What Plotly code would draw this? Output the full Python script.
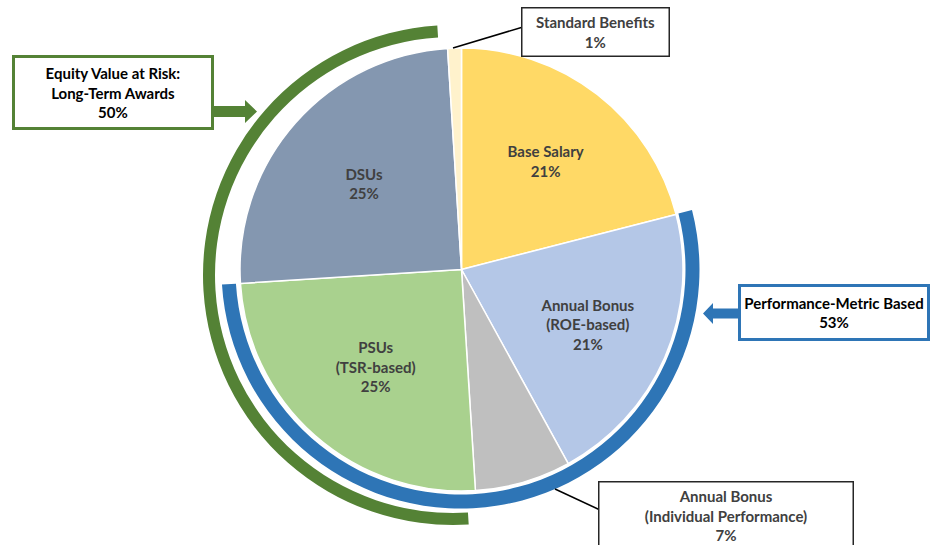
import plotly.graph_objects as go

# ---- data ----
categories = ["Base Salary", "Annual Bonus (ROE-based)", "Annual Bonus (Individual Performance)",
              "PSUs (TSR-based)", "DSUs", "Standard Benefits"]
inside_labels = ["Base Salary", "Annual Bonus<br>(ROE-based)", "", "PSUs<br>(TSR-based)", "DSUs", ""]
values = [21, 21, 7, 25, 25, 1]
slice_colors = ["#FFD966", "#B4C7E7", "#BFBFBF", "#A9D18E", "#8497B0", "#FFF2CC"]

performance_total = values[1] + values[2] + values[3]   # 53
equity_total = values[3] + values[4]                     # 50

W, H = 930, 545
def px(x): return x / W
def py(y): return 1 - y / H

def dom(cx, cy, r):
    return dict(x=[px(cx - r), px(cx + r)], y=[py(cy + r), py(cy - r)])

FONT = "Lato, 'Open Sans', sans-serif"
FS = 15
texts = [f"{lab}<br>{v}%" if lab else "" for lab, v in zip(inside_labels, values)]

fig = go.Figure()

# main pie
fig.add_trace(go.Pie(
    labels=categories, values=values, text=texts, textinfo="text",
    textposition="inside", insidetextorientation="horizontal",
    sort=False, direction="clockwise", rotation=0,
    marker=dict(colors=slice_colors, line=dict(color="white", width=1.5)),
    textfont=dict(family=FONT, size=FS, color="#404040", weight="bold"),
    domain=dom(461.5, 269.5, 221.5), hoverinfo="label+percent", showlegend=False,
))

# blue ring: performance-metric based
fig.add_trace(go.Pie(
    labels=["a", "perf", "b"],
    values=[values[0], performance_total, values[4] + values[5]],
    sort=False, direction="clockwise", rotation=0, hole=225 / 239,
    marker=dict(colors=["rgba(0,0,0,0)", "#2E75B6", "rgba(0,0,0,0)"], line=dict(width=0)),
    textinfo="none", hoverinfo="skip", showlegend=False,
    domain=dom(460.5, 269.5, 239),
))

# green ring: equity value at risk
fig.add_trace(go.Pie(
    labels=["c", "equity", "d"],
    values=[values[0] + values[1] + values[2], equity_total, values[5]],
    sort=False, direction="clockwise", rotation=0, hole=238 / 250,
    marker=dict(colors=["rgba(0,0,0,0)", "#548235", "rgba(0,0,0,0)"], line=dict(width=0)),
    textinfo="none", hoverinfo="skip", showlegend=False,
    domain=dom(453, 275, 250),
))

def path(points):
    return "M " + " L ".join(f"{px(x)},{py(y)}" for x, y in points) + " Z"

shapes = [
    # green arrow
    dict(type="path", xref="paper", yref="paper", layer="above",
         path=path([(208, 106), (245, 106), (245, 100), (257, 111.5), (245, 123), (245, 117), (208, 117)]),
         fillcolor="#548235", line=dict(width=0)),
    # blue arrow
    dict(type="path", xref="paper", yref="paper", layer="above",
         path=path([(741, 308.5), (713, 308.5), (713, 303), (703, 313.5), (713, 324), (713, 318.5), (741, 318.5)]),
         fillcolor="#2E75B6", line=dict(width=0)),
    # leader lines
    dict(type="line", xref="paper", yref="paper", x0=px(453), y0=py(48), x1=px(523), y1=py(27),
         line=dict(color="black", width=1.5)),
    dict(type="line", xref="paper", yref="paper", x0=px(555), y0=py(489), x1=px(600), y1=py(510),
         line=dict(color="black", width=1.5)),
]

def box(text, cx, cy, w, h, border, bw, color):
    return dict(text=text, xref="paper", yref="paper", x=px(cx), y=py(cy),
                xanchor="center", yanchor="middle", showarrow=False,
                width=w, height=h, borderpad=0, bordercolor=border, borderwidth=bw,
                bgcolor="white", align="center", valign="middle",
                font=dict(family=FONT, size=FS, color=color, weight="bold"))

annotations = [
    box(f"Equity Value at Risk:<br>Long-Term Awards<br>{equity_total}%", 112.5, 93, 196, 69, "#548235", 3, "black"),
    box(f"Performance-Metric Based<br>{performance_total}%", 833.5, 312, 186, 51, "#2E75B6", 3, "black"),
    box(f"{categories[5]}<br>{values[5]}%", 595.5, 32, 146, 47, "#262626", 1.5, "#404040"),
    box(f"Annual Bonus<br>(Individual Performance)<br>{values[2]}%", 726, 515, 253, 66, "#262626", 1.5, "#404040"),
]

fig.update_layout(
    width=W, height=H, margin=dict(l=0, r=0, t=0, b=0),
    paper_bgcolor="white", plot_bgcolor="white",
    shapes=shapes, annotations=annotations, showlegend=False,
)

fig.write_html("out.html", config={"displayModeBar": False},
               post_script="document.body.style.margin='0px';document.body.style.padding='0px';")
